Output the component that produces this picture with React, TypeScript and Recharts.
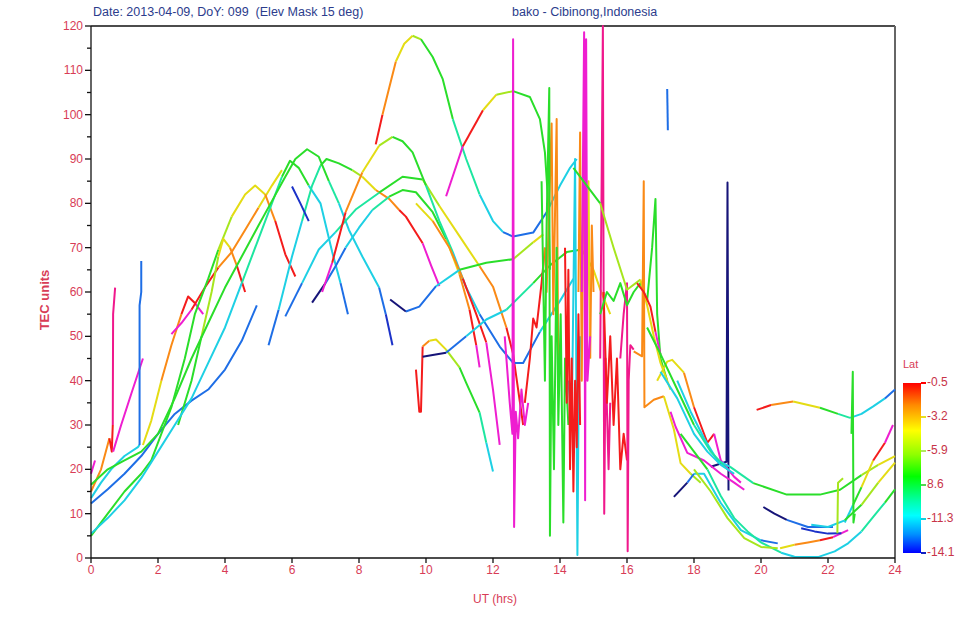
import React from 'react';
import { LineChart, Line, XAxis, YAxis, ReferenceLine } from 'recharts';

// TEC passes, [UT hrs, TEC units]
const p01 = [[0, 19], [0.12, 22]];
const p02 = [[0, 15], [0.3, 20], [0.55, 27], [0.62, 24], [0.65, 30], [0.66, 55], [0.72, 61]];
const p03 = [[0.66, 24], [0.9, 30], [1.2, 37], [1.55, 45]];
const p04 = [[0, 13.5], [0.3, 17], [0.6, 20], [1, 23], [1.4, 25], [1.45, 25.5], [1.45, 57], [1.5, 60], [1.5, 67]];
const p05 = [[0, 12.3], [0.5, 15.5], [1, 19], [1.5, 23], [2, 28], [2.5, 32.5], [3, 35.5], [3.5, 38], [4, 42.5], [4.5, 49], [4.95, 57]];
const p07 = [[1.55, 25.5], [1.8, 31], [2.1, 40], [2.4, 48], [2.7, 55], [2.9, 59], [3.1, 57.5], [3.35, 55]];
const p08 = [[2.4, 50.5], [2.7, 53], [3.0, 56], [3.4, 61], [3.8, 65.5], [4.2, 69], [4.6, 74], [5.0, 79], [5.4, 84], [5.7, 87.5]];
const p09 = [[0, 5], [0.5, 10], [1, 15], [1.5, 19], [1.8, 22], [2.4, 34], [2.8, 45], [3.1, 55], [3.5, 63], [3.8, 69.5], [4.2, 77], [4.6, 82], [4.9, 84], [5.2, 82], [5.5, 76], [5.8, 68.5], [6.1, 63.5]];
const p10 = [[2.6, 30], [3.0, 40], [3.3, 50], [3.6, 60], [3.8, 68], [3.95, 72], [4.15, 70], [4.35, 66], [4.6, 60]];
const p11 = [[0, 5.5], [0.5, 9], [1, 13], [1.5, 18], [2, 24], [2.5, 30], [3, 36], [3.5, 44], [4, 52], [4.5, 62], [5, 72], [5.4, 80], [5.7, 86], [5.94, 89.6], [6.2, 88], [6.5, 84], [6.85, 80], [7.2, 69], [7.45, 62], [7.67, 55]];
const p12 = [[0, 16.5], [0.5, 20], [1, 22], [1.5, 24], [2, 28], [2.5, 36], [3, 45], [3.5, 53], [4, 61], [4.5, 68], [5, 75], [5.4, 80.5], [5.8, 86], [6.1, 90], [6.45, 92.2], [6.8, 90.5], [7.1, 85], [7.4, 80], [7.7, 74], [8.1, 68], [8.6, 61], [8.8, 55], [9.0, 48]];
const p13 = [[5.3, 48], [5.6, 56], [6.0, 68], [6.3, 76], [6.6, 84], [6.85, 88.5], [7.03, 90], [7.4, 89], [7.8, 87.5], [8.1, 86], [8.5, 83], [8.9, 81], [9.2, 78.5], [9.4, 77], [9.65, 74], [9.9, 71], [10.15, 66], [10.4, 61.3]];
const p14 = [[5.8, 54.5], [6.3, 62], [6.8, 69.6], [7.3, 73.5], [7.9, 78.6], [8.6, 82.4], [9.3, 86], [9.9, 85.4], [10.4, 79.4], [11.0, 72.6], [11.6, 65.8], [12.0, 61.2], [12.4, 52], [12.6, 46], [12.75, 38], [12.9, 30]];
const p15 = [[6.6, 57.6], [7.0, 62], [7.3, 65.8], [7.6, 70], [8.0, 74.5], [8.4, 78.5], [8.9, 81.5], [9.3, 83], [9.7, 82.5], [10.2, 78], [10.6, 72], [11.0, 64], [11.3, 56], [11.5, 48], [11.6, 43]];
const p16 = [[6.9, 60], [7.2, 66.6], [7.6, 78], [8.1, 87], [8.6, 93], [9.0, 95], [9.3, 94], [9.6, 91.5], [10.0, 84], [10.4, 76], [10.8, 69], [11.2, 61], [11.6, 55], [12.2, 47.7], [12.6, 44], [12.9, 44], [13.4, 51], [14.0, 58], [14.4, 63]];
const p17 = [[9.7, 80], [10.2, 76], [10.7, 70], [11.1, 63], [11.5, 55], [11.8, 48.6], [12.0, 38], [12.2, 25.5]];
const p18 = [[9.7, 42.5], [9.8, 33], [9.85, 33], [9.9, 47.7], [10.1, 49], [10.3, 49.3], [10.6, 47], [11.0, 43], [11.2, 39.5], [11.6, 32.8], [11.8, 26], [12.0, 19.5]];
const p19 = [[9.9, 45.4], [10.2, 45.8], [10.6, 46.3], [11.2, 50], [11.8, 53.8], [12.4, 56], [13.2, 62], [13.7, 66], [14.2, 69], [14.65, 69.6], [15.0, 65], [15.2, 60.6], [15.5, 55]];
const p20 = [[8.93, 58.3], [9.4, 55.6], [9.8, 56.7], [10.3, 61.3], [11.0, 65], [11.8, 66.6], [12.6, 67.4], [13.2, 71.2], [13.5, 73]];
const p21 = [[8.5, 93.3], [8.7, 100], [8.9, 106], [9.1, 112], [9.35, 116], [9.6, 117.8], [9.85, 117], [10.2, 113], [10.5, 108], [10.8, 99], [11.2, 90], [11.6, 82], [12.0, 76], [12.3, 73.5], [12.6, 72.5], [13.2, 73.4], [13.6, 78], [14.0, 84], [14.3, 88], [14.5, 90]];
const p22 = [[10.6, 81.6], [11.1, 92.9], [11.7, 101], [12.1, 104.5], [12.6, 105.3], [13.1, 104], [13.4, 99], [13.55, 91.5], [13.65, 80], [13.7, 65]];
const p23 = [[6.0, 83.8], [6.25, 80], [6.5, 76]];
const p25 = [[17.2, 105.8], [17.22, 96.5]];
const p26 = [[18.5, 20.6], [18.97, 21.7], [19.0, 84.7], [19.03, 15.2]];

// noisy passes around 12.5 - 17 UT
const c01 = [[12.35, 50], [12.5, 35], [12.58, 28], [12.6, 117], [12.63, 7], [12.68, 33], [12.75, 27], [12.85, 38], [12.95, 30], [13.05, 35]];
const c02 = [[12.95, 35], [13.1, 45], [13.2, 54], [13.3, 52], [13.45, 62], [13.55, 70], [13.6, 60], [13.75, 98], [13.8, 55], [13.9, 99], [13.95, 40]];
const c03 = [[13.45, 85], [13.55, 40], [13.6, 75], [13.68, 106], [13.7, 5], [13.75, 50], [13.82, 20], [13.9, 70], [13.95, 30], [14.02, 55], [14.1, 8], [14.15, 45], [14.25, 30]];
const c04 = [[14.25, 40], [14.35, 30], [14.45, 90], [14.5, 25], [14.52, 0.7], [14.55, 30], [14.6, 50]];
const c05 = [[14.15, 70], [14.2, 35], [14.25, 65], [14.3, 20], [14.35, 45], [14.4, 15], [14.45, 40], [14.5, 25], [14.55, 55], [14.6, 30]];
const c06 = [[14.55, 60], [14.6, 96], [14.65, 40], [14.7, 90], [14.8, 50], [14.85, 85], [14.9, 45], [14.95, 75], [15.0, 60]];
const c07 = [[14.65, 60], [14.72, 118.6], [14.75, 13], [14.78, 117], [14.82, 40], [14.9, 50]];
const c08 = [[15.2, 45], [15.28, 120], [15.32, 10], [15.36, 45], [15.45, 20], [15.5, 35]];
const c09 = [[15.3, 60], [15.4, 35], [15.5, 50], [15.6, 30], [15.7, 45], [15.8, 20], [15.9, 28], [16.0, 22]];
const c10 = [[15.8, 45], [15.9, 55], [16.0, 62], [16.02, 1.5], [16.05, 40], [16.1, 48], [16.2, 47]];
const c11 = [[15.2, 55], [15.4, 60], [15.6, 58], [15.8, 62], [16.0, 57], [16.2, 60], [16.4, 62], [16.6, 58], [16.75, 70], [16.85, 81], [16.9, 55], [17.0, 45], [17.2, 40]];
const c12 = [[14.4, 88], [14.8, 84], [15.2, 80], [15.6, 70], [16.0, 60.5], [16.4, 62.8], [16.6, 57], [16.8, 50], [17.0, 44], [17.3, 38]];
const c13 = [[16.2, 46.6], [16.45, 45.5], [16.5, 85], [16.52, 34], [16.8, 35.7], [17.1, 36.5], [17.4, 29], [17.6, 21.4], [17.9, 19], [18.2, 17]];
const c14 = [[16.3, 62], [16.5, 60], [16.7, 56.7], [16.85, 51], [17.0, 45.9]];

// evening passes
const r01 = [[16.9, 40], [17.2, 44.3], [17.35, 44.7], [17.7, 41.8], [18.0, 34], [18.4, 26], [18.6, 28], [18.8, 22], [19.2, 18.3], [19.4, 17]];
const r02 = [[17.5, 40], [17.9, 33], [18.3, 27], [18.7, 22], [19.07, 20.6], [19.77, 16.9], [20.77, 14.3], [21.76, 14.3], [22.36, 15.4], [23.0, 18.7], [23.5, 21], [24, 23]];
const r03 = [[19.87, 33.4], [20.3, 34.5], [20.96, 35.3], [21.76, 33.9], [22.3, 32.5], [22.66, 31.6], [23.0, 32.5], [23.35, 34.2], [23.7, 36], [24, 38]];
const r04 = [[17.3, 33], [17.45, 29.6], [17.8, 23.7], [18.3, 22], [18.8, 19], [19.2, 17], [19.5, 15.4]];
const r06 = [[17.4, 13.8], [17.8, 17], [18.0, 19], [18.3, 19], [18.8, 12.4], [19.4, 6.3], [20.0, 4], [20.5, 3.3]];
const r07 = [[17.6, 28], [18.0, 24], [18.4, 20], [18.8, 14], [19.2, 9], [19.6, 6], [20.0, 3.5], [20.6, 1.2], [21.0, 0.3], [21.7, 0.2], [22.2, 1.5], [22.6, 3.3], [23.0, 6], [23.35, 9.3], [23.7, 12.5], [24, 15.5]];
const r08 = [[18.0, 20], [18.5, 15], [19.0, 9], [19.5, 4.5], [20.0, 2.5], [20.5, 2.2]];
const r09 = [[20.57, 2.2], [21.0, 3], [21.4, 3.5], [21.76, 4], [22.15, 4.7], [22.6, 6.3]];
const r10 = [[20.07, 11.5], [20.4, 10], [20.77, 8.6], [21.4, 7], [22.15, 7]];
const r11 = [[21.2, 6.7], [21.6, 6], [22.0, 5.5], [22.4, 5.6]];
const r12 = [[22.5, 8], [22.75, 12], [23.0, 16], [23.35, 22], [23.7, 26], [23.94, 30]];
const r13 = [[21.5, 7.5], [22.0, 7], [22.5, 8.5], [23.0, 12], [23.5, 17], [24, 21.5]];
const r14 = [[22.28, 5.6], [22.3, 17], [22.45, 18]];
const r15 = [[22.7, 28], [22.74, 42], [22.76, 8], [22.8, 10]];
const r16 = [[16.6, 52], [17.0, 46], [17.5, 38], [18.0, 30], [18.5, 24], [19.0, 20]];
const r17 = [[17.0, 42], [17.5, 36], [18.0, 28], [18.4, 24], [18.8, 21], [19.2, 19]];

const xTicks = [0, 2, 4, 6, 8, 10, 12, 14, 16, 18, 20, 22, 24];
const yTicks = [0, 5, 10, 15, 20, 25, 30, 35, 40, 45, 50, 55, 60, 65, 70, 75, 80, 85, 90, 95, 100, 105, 110, 115, 120];
const latLabels = ['-0.5', '-3.2', '-5.9', '8.6', '-11.3', '-14.1'];

const COL: Record<string, string> = {
  R: '#f41c1c', O: '#fa8a16', Y: '#e4dc14', YG: '#a6e61e', G: '#2ade2a', GC: '#1ee6a0',
  C: '#1ed0e4', B: '#1e6ee6', DB: '#1c32c8', NV: '#161478', M: '#ee1ed0', P: '#f0188c',
};

const RED = '#d83c56';
const FONT = '"Liberation Sans", Arial, sans-serif';

// pass -> colour changes along it (point index where a colour starts)
const PASSES: { pts: number[][]; stops: [number, string][] }[] = [
  { pts: p01, stops: [[0, 'M']] },
  { pts: p02, stops: [[0, 'O'], [2, 'R'], [4, 'P']] },
  { pts: p03, stops: [[0, 'M']] },
  { pts: p04, stops: [[0, 'C'], [5, 'B']] },
  { pts: p05, stops: [[0, 'B']] },
  { pts: p07, stops: [[0, 'Y'], [2, 'O'], [4, 'R'], [6, 'M']] },
  { pts: p08, stops: [[0, 'M'], [2, 'R'], [4, 'O'], [7, 'Y']] },
  { pts: p09, stops: [[0, 'G'], [9, 'YG'], [10, 'Y'], [13, 'O'], [14, 'R'], [16, 'M']] },
  { pts: p10, stops: [[0, 'G'], [2, 'YG'], [4, 'Y'], [6, 'O'], [7, 'R']] },
  { pts: p11, stops: [[0, 'C'], [9, 'GC'], [12, 'G'], [15, 'C'], [18, 'B']] },
  { pts: p12, stops: [[0, 'G'], [16, 'GC'], [17, 'C'], [20, 'B'], [21, 'DB']] },
  { pts: p13, stops: [[0, 'B'], [1, 'C'], [3, 'GC'], [5, 'G'], [8, 'YG'], [9, 'Y'], [10, 'O'], [12, 'R'], [15, 'M']] },
  { pts: p14, stops: [[0, 'B'], [1, 'C'], [3, 'GC'], [5, 'G'], [7, 'YG'], [8, 'Y'], [10, 'O'], [12, 'R']] },
  { pts: p15, stops: [[0, 'NV'], [1, 'B'], [3, 'C'], [5, 'GC'], [6, 'G'], [10, 'Y'], [11, 'O'], [12, 'R'], [13, 'M']] },
  { pts: p16, stops: [[0, 'M'], [1, 'R'], [2, 'O'], [3, 'Y'], [4, 'YG'], [5, 'G'], [8, 'GC'], [10, 'C'], [12, 'B'], [16, 'C']] },
  { pts: p17, stops: [[0, 'Y'], [1, 'O'], [3, 'R'], [5, 'M']] },
  { pts: p18, stops: [[0, 'R'], [3, 'O'], [4, 'Y'], [6, 'YG'], [7, 'G'], [9, 'GC'], [10, 'C']] },
  { pts: p19, stops: [[0, 'NV'], [2, 'B'], [3, 'C'], [5, 'GC'], [6, 'G'], [9, 'YG'], [10, 'Y']] },
  { pts: p20, stops: [[0, 'NV'], [1, 'B'], [3, 'C'], [4, 'G'], [6, 'YG'], [7, 'Y']] },
  { pts: p21, stops: [[0, 'R'], [1, 'O'], [3, 'Y'], [5, 'YG'], [6, 'G'], [9, 'GC'], [11, 'C'], [13, 'B'], [16, 'C']] },
  { pts: p22, stops: [[0, 'M'], [1, 'R'], [2, 'Y'], [3, 'YG'], [4, 'G']] },
  { pts: p23, stops: [[0, 'DB']] },
  { pts: p25, stops: [[0, 'B']] },
  { pts: p26, stops: [[0, 'NV']] },
  { pts: c01, stops: [[0, 'M']] },
  { pts: c02, stops: [[0, 'R'], [5, 'O']] },
  { pts: c03, stops: [[0, 'G']] },
  { pts: c04, stops: [[0, 'C']] },
  { pts: c05, stops: [[0, 'R']] },
  { pts: c06, stops: [[0, 'O'], [3, 'Y'], [6, 'O']] },
  { pts: c07, stops: [[0, 'M']] },
  { pts: c08, stops: [[0, 'P']] },
  { pts: c09, stops: [[0, 'R']] },
  { pts: c10, stops: [[0, 'P']] },
  { pts: c11, stops: [[0, 'G']] },
  { pts: c12, stops: [[0, 'G'], [2, 'YG'], [5, 'Y']] },
  { pts: c13, stops: [[0, 'O'], [5, 'Y'], [8, 'YG']] },
  { pts: c14, stops: [[0, 'R'], [3, 'M']] },
  { pts: r01, stops: [[0, 'Y'], [3, 'O'], [4, 'R'], [6, 'M']] },
  { pts: r02, stops: [[0, 'C'], [4, 'GC'], [5, 'G'], [9, 'YG'], [10, 'Y']] },
  { pts: r03, stops: [[0, 'R'], [1, 'O'], [2, 'Y'], [3, 'G'], [4, 'GC'], [5, 'C'], [8, 'B']] },
  { pts: r04, stops: [[0, 'M']] },
  { pts: r06, stops: [[0, 'NV'], [1, 'B'], [2, 'C'], [6, 'B'], [7, 'NV']] },
  { pts: r07, stops: [[0, 'G'], [2, 'GC'], [7, 'C'], [12, 'GC'], [14, 'G']] },
  { pts: r08, stops: [[0, 'YG']] },
  { pts: r09, stops: [[0, 'Y'], [1, 'O'], [3, 'R'], [4, 'M']] },
  { pts: r10, stops: [[0, 'NV'], [2, 'B']] },
  { pts: r11, stops: [[0, 'DB']] },
  { pts: r12, stops: [[0, 'C'], [1, 'G'], [2, 'Y'], [3, 'R'], [4, 'M']] },
  { pts: r13, stops: [[0, 'C'], [2, 'G'], [3, 'YG'], [4, 'Y']] },
  { pts: r14, stops: [[0, 'YG']] },
  { pts: r15, stops: [[0, 'G']] },
  { pts: r16, stops: [[0, 'G'], [3, 'GC']] },
  { pts: r17, stops: [[0, 'C']] },
];

const segments = PASSES.flatMap((p, pi) =>
  p.stops.map(([start, c], k) => {
    const end = k + 1 < p.stops.length ? p.stops[k + 1][0] : p.pts.length - 1;
    return {
      key: `s${pi}-${k}`,
      color: COL[c],
      data: p.pts.slice(start, end + 1).map(([x, y]) => ({ x, y })),
    };
  })
).filter((s) => s.data.length > 1);

const YTick = ({ x, y, payload }: any) => {
  const v = payload.value;
  const major = v % 10 === 0;
  const ax = x + 7; // tickSize + tickMargin
  return (
    <g>
      <line x1={ax - (major ? 6 : 4)} x2={ax} y1={y} y2={y} stroke="#111" strokeWidth={1.3} />
      {major && (
        <text x={ax - 8} y={y} dy={4} textAnchor="end" fill={RED} fontSize={12} fontFamily={FONT}>
          {v}
        </text>
      )}
    </g>
  );
};

const ColorBar = () => {
  const tickCols = ['#ff0000', '#e8e020', '#b0e860', '#50d850', '#10d0e0', '#1020c0'];
  return (
    <div style={{ position: 'absolute', left: 896, top: 358, width: 72, height: 205 }}>
      <div style={{ position: 'absolute', left: 7, top: 0, fontSize: 11, color: RED, fontFamily: FONT }}>Lat</div>
      <div
        style={{
          position: 'absolute', left: 7, top: 25, width: 18, height: 170,
          background: 'linear-gradient(to bottom, #ff0000 0%, #ff8a00 13%, #ffff00 28%, #90ff00 42%, #00ff00 55%, #00ffb0 70%, #00ffff 78%, #0090ff 89%, #0000ff 100%)',
        }}
      />
      {latLabels.map((t, i) => (
        <React.Fragment key={t}>
          <div style={{ position: 'absolute', left: 25, top: 25 + i * 34 - 1, width: 5, height: 2, background: tickCols[i] }} />
          <div style={{ position: 'absolute', left: 31, top: 25 + i * 34 - 8, fontSize: 12, color: '#c83448', fontFamily: FONT, whiteSpace: 'pre' }}>
            {t}
          </div>
        </React.Fragment>
      ))}
    </div>
  );
};

export default function App() {
  return (
    <div style={{ position: 'absolute', left: 0, top: 0, width: 968, height: 635, background: '#fff', fontFamily: FONT }}>
      <div style={{ position: 'absolute', left: 93, top: 5, fontSize: 12.5, color: '#2c3c8c', whiteSpace: 'pre' }}>
        Date: 2013-04-09, DoY: 099  (Elev Mask 15 deg)
      </div>
      <div style={{ position: 'absolute', left: 512, top: 5, fontSize: 12.5, color: '#2c3c8c', whiteSpace: 'pre' }}>
        bako - Cibinong,Indonesia
      </div>
      <LineChart width={968} height={635} margin={{ top: 26, right: 73, bottom: 47, left: 51 }}>
        <XAxis
          dataKey="x"
          type="number"
          domain={[0, 24]}
          ticks={xTicks}
          interval={0}
          tickSize={5}
          axisLine={{ stroke: '#111', strokeWidth: 1.3 }}
          tickLine={{ stroke: '#111', strokeWidth: 1.3 }}
          tick={{ fill: RED, fontSize: 12, fontFamily: FONT }}
          height={30}
          label={{
            content: () => (
              <text x={495} y={603} textAnchor="middle" fill={RED} fontSize={12} fontFamily={FONT}>
                UT (hrs)
              </text>
            ),
          }}
        />
        <YAxis
          type="number"
          domain={[0, 120]}
          ticks={yTicks}
          interval={0}
          tickSize={5}
          tickMargin={2}
          width={40}
          axisLine={{ stroke: '#111', strokeWidth: 1.3 }}
          tickLine={false}
          tick={<YTick />}
          label={{
            content: () => (
              <text x={49} y={300} transform="rotate(-90 49 300)" textAnchor="middle" fill={RED} fontSize={13} fontWeight="bold" fontFamily={FONT}>
                TEC units
              </text>
            ),
          }}
        />
        <ReferenceLine y={120} stroke="#111" strokeWidth={1.3} />
        <ReferenceLine x={24} stroke="#666" strokeWidth={2} />
        {segments.map((s) => (
          <Line
            key={s.key}
            data={s.data}
            dataKey="y"
            type="linear"
            stroke={s.color}
            strokeWidth={2}
            strokeLinejoin="round"
            dot={false}
            activeDot={false}
            isAnimationActive={false}
          />
        ))}
      </LineChart>
      <ColorBar />
    </div>
  );
}
